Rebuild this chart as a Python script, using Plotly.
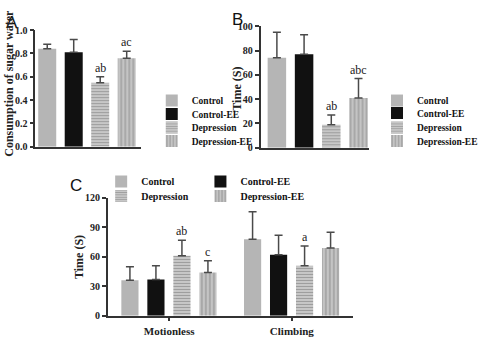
import plotly.graph_objects as go

groups = ["Control", "Control-EE", "Depression", "Depression-EE"]

# Panel A: sugar water consumption
a_vals = [0.84, 0.81, 0.55, 0.76]
a_err = [0.04, 0.11, 0.05, 0.06]
a_sig = ["", "", "ab", "ac"]

# Panel B: time (S)
b_vals = [74, 77, 19, 41]
b_err = [21, 16, 8, 16]
b_sig = ["", "", "ab", "abc"]

# Panel C: time (S) for two behaviours
c_cats = ["Motionless", "Climbing"]
c_vals = {
    "Control": [36, 78],
    "Control-EE": [37, 62],
    "Depression": [61, 51],
    "Depression-EE": [44, 69],
}
c_err = {
    "Control": [14, 28],
    "Control-EE": [14, 20],
    "Depression": [16, 20],
    "Depression-EE": [12, 16],
}
c_sig = {
    "Control": ["", ""],
    "Control-EE": ["", ""],
    "Depression": ["ab", "a"],
    "Depression-EE": ["c", ""],
}

W, H = 483, 340
def px(x):
    return x / W
def py(y):
    return 1 - y / H

SERIF = "Liberation Serif, Times New Roman, serif"
styles = {
    "Control": dict(color="#b5b5b5"),
    "Control-EE": dict(color="#111111"),
    "Depression": dict(color="#cfcfcf", pattern=dict(shape="-", bgcolor="#cfcfcf", fgcolor="#6c6c6c", size=3, solidity=0.45, fillmode="overlay")),
    "Depression-EE": dict(color="#c4c4c4", pattern=dict(shape="|", bgcolor="#c4c4c4", fgcolor="#666666", size=4, solidity=0.3, fillmode="overlay")),
}
ERR = dict(type="data", symmetric=False, color="#4a4a4a", thickness=1.5, width=4)

fig = go.Figure()
annotations = []
legends = {}
leg_count = [0]

def new_legend(x, y, size=10):
    leg_count[0] += 1
    n = leg_count[0]
    key = "legend" if n == 1 else f"legend{n}"
    legends[key] = dict(x=px(x), y=py(y), xanchor="left", yanchor="middle",
                        bgcolor="rgba(0,0,0,0)", itemwidth=30, borderwidth=0,
                        font=dict(family=SERIF, size=size, color="#111", weight="bold"))
    return key

# Legend entry positions (marker-left x, centre y) in pixels
legA = [(159, 98), (159, 112), (159, 126), (159, 140)]
legB = [(395, 98), (395, 111), (395, 126), (395, 140)]
legC = [(106, 182), (210, 182), (106, 197), (210, 197)]

# Panel A
for i, g in enumerate(groups):
    fig.add_trace(go.Bar(
        x=[g], y=[a_vals[i]], name=g, marker=dict(line=dict(width=0), **styles[g]),
        width=0.68, xaxis="x", yaxis="y", legend=new_legend(*legA[i], size=9.5), showlegend=True,
        error_y=dict(array=[a_err[i]], arrayminus=[0], **ERR)))
    if a_sig[i]:
        annotations.append(dict(x=g, y=a_vals[i] + a_err[i], xref="x", yref="y", text=a_sig[i],
                                showarrow=False, yanchor="bottom", xanchor="center",
                                font=dict(family=SERIF, size=12, color="#222")))

# Panel B
for i, g in enumerate(groups):
    fig.add_trace(go.Bar(
        x=[g], y=[b_vals[i]], name=g, marker=dict(line=dict(width=0), **styles[g]),
        width=0.68, xaxis="x2", yaxis="y2", legend=new_legend(*legB[i], size=9.5), showlegend=True,
        error_y=dict(array=[b_err[i]], arrayminus=[0], **ERR)))
    if b_sig[i]:
        annotations.append(dict(x=g, y=b_vals[i] + b_err[i], xref="x2", yref="y2", text=b_sig[i],
                                showarrow=False, yanchor="bottom", xanchor="center",
                                font=dict(family=SERIF, size=12, color="#222")))

# Panel C
bw = 0.14
step = 0.212
for j, g in enumerate(groups):
    off = -0.39 + j * step
    fig.add_trace(go.Bar(
        x=c_cats, y=c_vals[g], name=g, marker=dict(line=dict(width=0), **styles[g]),
        width=bw, offset=off, xaxis="x3", yaxis="y3", legend=new_legend(*legC[j]), showlegend=True,
        error_y=dict(array=c_err[g], arrayminus=[0, 0], **ERR)))
    for k, cat in enumerate(c_cats):
        if c_sig[g][k]:
            annotations.append(dict(x=k + off + bw / 2, y=c_vals[g][k] + c_err[g][k], xref="x3", yref="y3",
                                    text=c_sig[g][k], showarrow=False, yanchor="bottom", xanchor="center",
                                    font=dict(family=SERIF, size=12, color="#222")))

# Panel labels and axis titles
for txt, x, y in [("A", 13, 17), ("B", 249, 14), ("C", 80, 186)]:
    annotations.append(dict(x=px(x), y=py(y), xref="paper", yref="paper", text=txt, showarrow=False,
                            xanchor="center", yanchor="middle",
                            font=dict(family="Liberation Sans", size=17, color="#111")))
for txt, x, y in [("Consumption of sugar water", 10, 80), ("Time (S)", 248, 86), ("Time (S)", 83, 260)]:
    annotations.append(dict(x=px(x), y=py(y), xref="paper", yref="paper", text="<b>" + txt + "</b>",
                            textangle=-90, showarrow=False, xanchor="center", yanchor="middle",
                            font=dict(family=SERIF, size=12, color="#222")))

axis_common = dict(showline=True, linecolor="#333", linewidth=1.5, ticks="outside", ticklen=4,
                   tickcolor="#333", tickwidth=1.5, showgrid=False, zeroline=False,
                   tickfont=dict(family=SERIF, size=10, color="#222", weight="bold"))

fig.update_layout(
    width=W, height=H, margin=dict(l=0, r=0, t=0, b=0), showlegend=True,
    paper_bgcolor="white", plot_bgcolor="white", barmode="overlay",
    xaxis=dict(domain=[px(37), px(148)], anchor="y", range=[-0.45, 3.55], showticklabels=False,
               showline=True, linecolor="#333", linewidth=1.5, ticks="", showgrid=False),
    yaxis=dict(domain=[py(146), py(25)], anchor="x", range=[0, 1.0], dtick=0.2, tickformat=".1f",
               **axis_common),
    xaxis2=dict(domain=[px(273), px(387)], anchor="y2", range=[-0.6, 3.4], showticklabels=False,
                showline=True, linecolor="#333", linewidth=1.5, ticks="", showgrid=False),
    yaxis2=dict(domain=[py(147), py(21)], anchor="x2", range=[0, 100], dtick=20, **axis_common),
    xaxis3=dict(domain=[px(113), px(370)], anchor="y3", range=[-0.5, 1.5],
                **{**axis_common, "tickfont": dict(family=SERIF, size=11, color="#222", weight="bold")}),
    yaxis3=dict(domain=[py(321), py(199)], anchor="x3", range=[0, 120], dtick=30, **axis_common),
    annotations=annotations,
    **legends,
)

fig.write_html("out.html")
